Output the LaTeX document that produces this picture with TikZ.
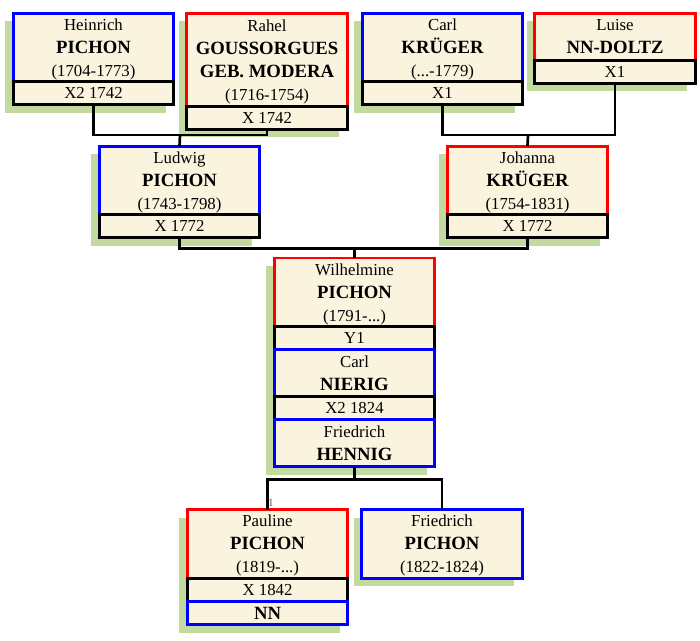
\documentclass[tikz,border=0pt]{standalone}
\usepackage{fontspec}
\setmainfont{Liberation Serif}
\usepackage{xcolor}
\usepackage{tikz}
\usetikzlibrary{positioning, shadows}

\definecolor{cardfill}{RGB}{250,243,221}
\definecolor{shadowgreen}{RGB}{195,218,158}
\newcommand{\famname}[1]{{\fontsize{18.7}{23}\selectfont\bfseries #1}}
\newcommand{\lifespan}[1]{\raisebox{0pt}[\height][0pt]{(#1)}}

\begin{document}
\begin{tikzpicture}[
        x=1pt, y=-1pt,
        card/.style={rectangle, draw, line width=2.7pt, fill=cardfill,
            minimum width=160.5pt, inner sep=0pt, outer sep=0pt, align=center,
            font=\fontsize{16.8}{23}\selectfont,
            drop shadow={shadow xshift=-8pt, shadow yshift=-8pt,
                fill=shadowgreen, opacity=1}},
        man/.style={card, draw=blue},
        woman/.style={card, draw=red},
        wed/.style={card, draw=black, minimum height=23pt},
        link/.style={line width=2.7pt},
        tick/.style={font=\fontsize{11}{11}\selectfont, text=black!65, inner sep=0pt}
    ]
        \useasboundingbox (0,0) rectangle (700,640);

        \node[man, minimum height=68.5pt, anchor=north] (heinrich) at (93.5,13.3)
            {Heinrich\\\famname{PICHON}\\\lifespan{1704-1773}};
        \node[wed, below=0pt of heinrich] (heinrichX) {X2 1742};
        \node[woman, minimum height=93pt, anchor=north] (rahel) at (267,13.3)
            {Rahel\\\famname{GOUSSORGUES}\\\famname{GEB. MODERA}\\\lifespan{1716-1754}};
        \node[wed, below=0pt of rahel] (rahelX) {X 1742};
        \node[man, minimum height=68.5pt, anchor=north] (carl) at (442.5,13.3)
            {Carl\\\famname{KRÜGER}\\\lifespan{...-1779}};
        \node[wed, below=0pt of carl] (carlX) {X1};
        \node[woman, minimum height=47pt, anchor=north] (luise) at (615,13.3)
            {Luise\\\famname{NN-DOLTZ}};
        \node[wed, below=0pt of luise] (luiseX) {X1};

        \node[man, minimum height=68.5pt, anchor=north] (ludwig) at (179.5,146.3)
            {Ludwig\\\famname{PICHON}\\\lifespan{1743-1798}};
        \node[wed, below=0pt of ludwig] (ludwigX) {X 1772};
        \node[woman, minimum height=68.5pt, anchor=north] (johanna) at (527.5,146.3)
            {Johanna\\\famname{KRÜGER}\\\lifespan{1754-1831}};
        \node[wed, below=0pt of johanna] (johannaX) {X 1772};

        \node[woman, minimum height=68.5pt, anchor=north] (wilhelmine) at (354.5,258)
            {Wilhelmine\\\famname{PICHON}\\\lifespan{1791-...}};
        \node[wed, below=0pt of wilhelmine] (wilhelmineY) {Y1};
        \node[man, minimum height=47pt, below=0pt of wilhelmineY] (nierig)
            {Carl\\\famname{NIERIG}};
        \node[wed, below=0pt of nierig] (nierigX) {X2 1824};
        \node[man, minimum height=47pt, below=0pt of nierigX] (hennig)
            {Friedrich\\\famname{HENNIG}};

        \node[woman, minimum height=68.5pt, anchor=north] (pauline) at (267.5,509.7)
            {Pauline\\\famname{PICHON}\\\lifespan{1819-...}};
        \node[wed, below=0pt of pauline] (paulineX) {X 1842};
        \node[man, minimum height=23.5pt, below=0pt of paulineX] (nn) {\famname{NN}};
        \node[man, minimum height=68.5pt, anchor=north] (friedrich) at (442,509.7)
            {Friedrich\\\famname{PICHON}\\\lifespan{1822-1824}};

        \coordinate (m1) at (180,135);
        \coordinate (m2) at (528,135);
        \coordinate (m3) at (354.5,248.5);
        \coordinate (m4) at (354.5,479.5);

        \draw[link] (heinrichX.south) |- (m1) -| (rahelX.south);
        \draw[link] (m1) -- (ludwig.north);
        \draw[link] (carlX.south) |- (m2) -| (luiseX.south);
        \draw[link] (m2) -- (johanna.north);
        \draw[link] (ludwigX.south) |- (m3) -| (johannaX.south);
        \draw[link] (m3) -- (wilhelmine.north);
        \draw[link] (hennig.south) -- (m4);
        \draw[link] (pauline.north) |- (m4) -| (friedrich.north);

        \node[tick, anchor=base west] (plabel) at ([xshift=0.5pt, yshift=3.7pt]pauline.north) {1};
    \end{tikzpicture}
\end{document}
